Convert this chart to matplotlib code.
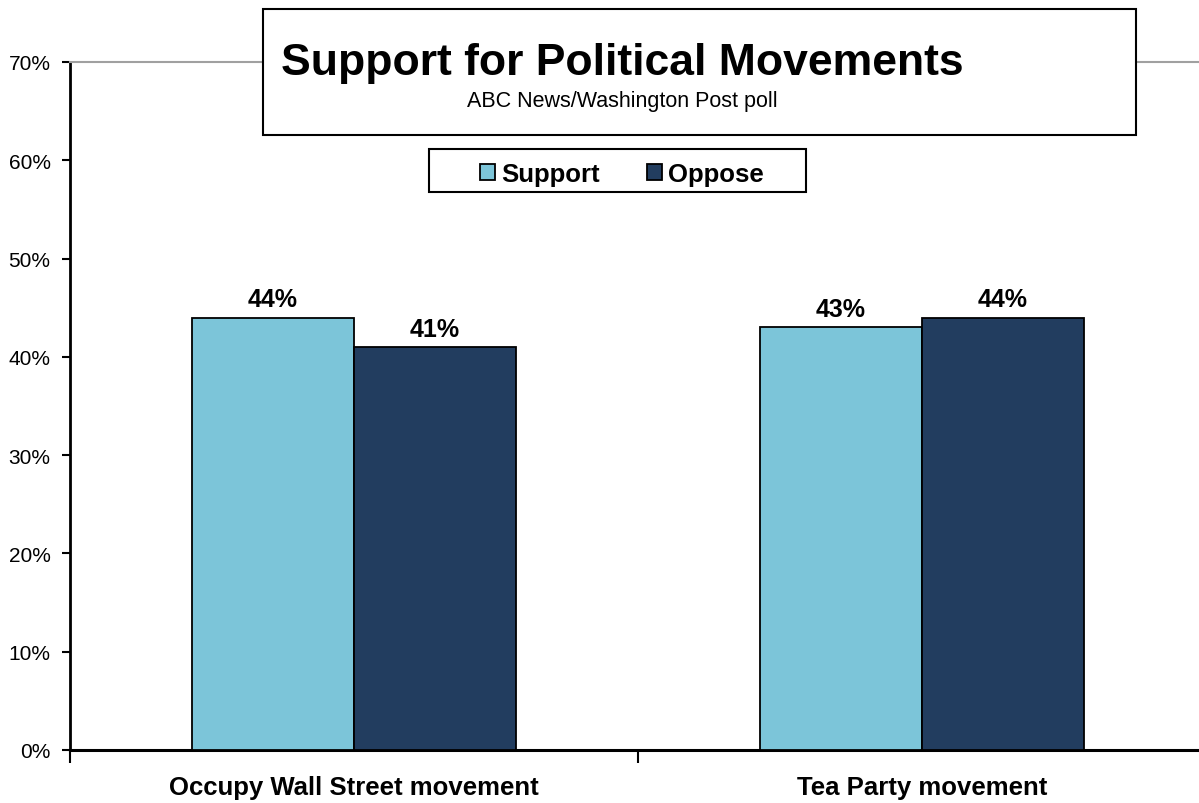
import numpy as np
import matplotlib
matplotlib.use("Agg")
import matplotlib.pyplot as plt
from matplotlib.patches import Rectangle

# data
categories = ["Occupy Wall Street movement", "Tea Party movement"]
support = [44, 43]
oppose = [41, 44]
series_names = ["Support", "Oppose"]
yticks = [0, 10, 20, 30, 40, 50, 60, 70]

plt.rcParams['font.family'] = ['Liberation Sans', 'DejaVu Sans']

fig = plt.figure(figsize=(11.99, 8.04), dpi=100)
ax = fig.add_axes([70/1199, 53/804, 1136/1199, 688/804])

x = np.arange(len(categories))
w = 0.285
b1 = ax.bar(x - w/2, support, w, color="#7cc5d9", edgecolor="black", linewidth=1.3, label=series_names[0], zorder=3)
b2 = ax.bar(x + w/2, oppose, w, color="#223d5f", edgecolor="black", linewidth=1.3, label=series_names[1], zorder=3)

for bars, vals in [(b1, support), (b2, oppose)]:
    for r, v in zip(bars, vals):
        ax.text(r.get_x() + r.get_width()/2, v + 0.65, "%d%%" % v, ha="center", va="bottom",
                fontsize=18, fontweight="bold")

ax.set_xlim(-0.5, 1.5)
ax.set_ylim(0, 70)
ax.set_yticks(yticks)
ax.set_yticklabels(["%d%%" % t for t in yticks], fontsize=15)
ax.tick_params(axis="y", direction="out", length=6, width=1.5, pad=8)

ax.set_xticks(x)
ax.set_xticklabels(categories, fontsize=18.5, fontweight="bold")
ax.tick_params(axis="x", which="major", length=0, pad=18)
ax.set_xticks([-0.5, 0.5, 1.5], minor=True)
ax.tick_params(axis="x", which="minor", direction="out", length=9, width=1.5)

ax.spines["right"].set_visible(False)
ax.spines["top"].set_color("#a0a0a0")
ax.spines["top"].set_linewidth(1.5)
ax.spines["left"].set_linewidth(2)
ax.spines["bottom"].set_linewidth(2.2)

# title box
fig.patches.append(Rectangle((263/1199, 1 - 136/804), (1136-263)/1199, 126/804,
                             transform=fig.transFigure, facecolor="white", edgecolor="black",
                             linewidth=1.5, zorder=5))
fig.text(622/1199, 1 - 64/804, "Support for Political Movements", ha="center", va="center",
         fontsize=32, fontweight="bold", zorder=6)
fig.text(622/1199, 1 - 102/804, "ABC News/Washington Post poll", ha="center", va="center",
         fontsize=15.5, zorder=6)

# legend box (drawn inside the axes so the legend sits on top of it)
ax.add_patch(Rectangle((429/1199, 1 - 193/804), (806-429)/1199, 43/804,
                       transform=fig.transFigure, facecolor="white", edgecolor="black",
                       linewidth=1.5, zorder=5, clip_on=False))
leg = ax.legend(loc="center", bbox_to_anchor=(622/1199, 1 - 175/804),
                bbox_transform=fig.transFigure, ncol=2, frameon=False,
                prop={"size": 18.5, "weight": "bold"},
                handlelength=0.6, handleheight=0.6, handletextpad=0.25, columnspacing=1.8,
                borderpad=0.2)
leg.set_zorder(6)

fig.savefig("out.png", dpi=100)
